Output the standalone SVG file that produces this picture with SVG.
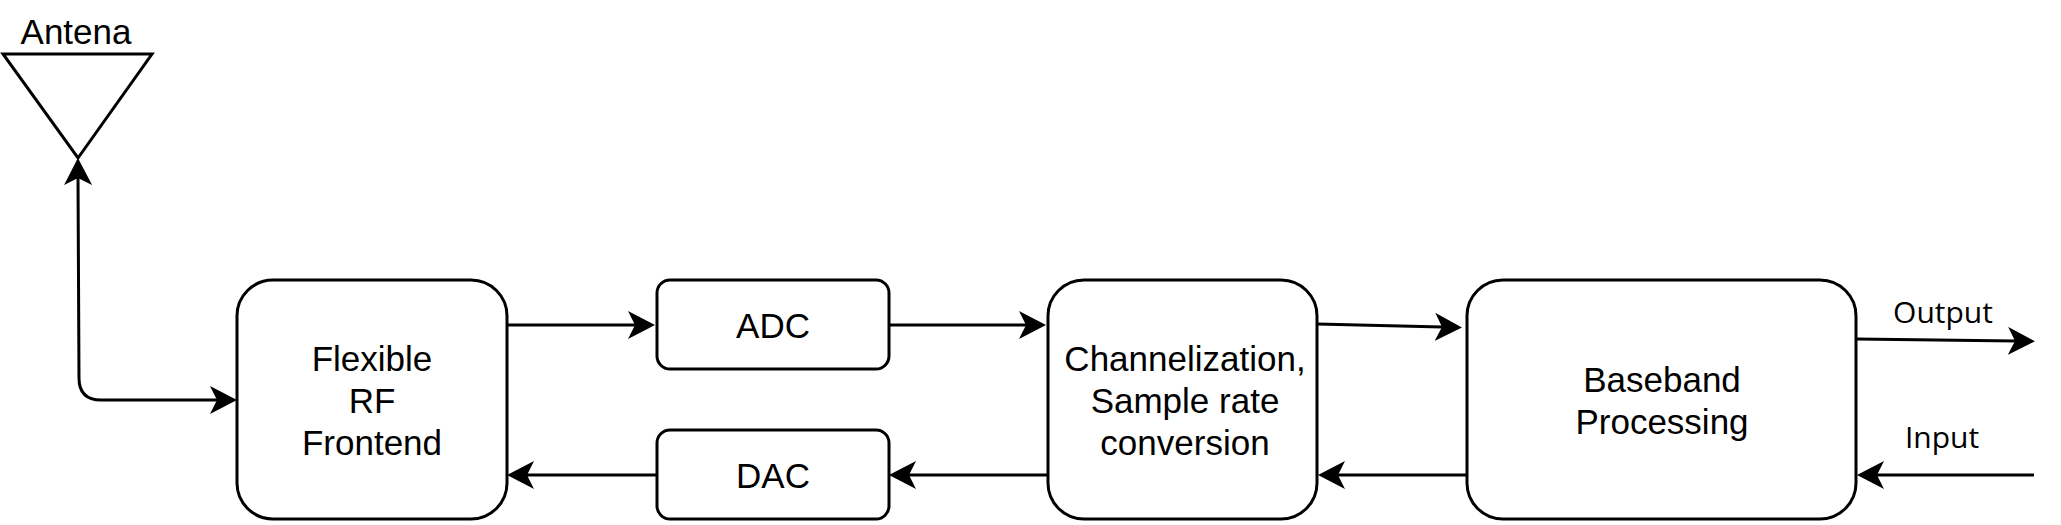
<svg xmlns="http://www.w3.org/2000/svg" width="2061" height="525" viewBox="0 0 2061 525">
<style>
.box{fill:#fff;stroke:#000;stroke-width:3}
.t{font-family:"Liberation Sans",Arial,sans-serif;font-size:35px;fill:#000;text-anchor:middle}
.lbl{font-family:"Open Sans",sans-serif;font-size:30px;fill:#000;text-anchor:middle}
.c{fill:none;stroke:#000;stroke-width:3}
</style>
<defs>
<marker id="ah" viewBox="0 0 27 28" refX="7" refY="14" markerWidth="27" markerHeight="28" markerUnits="userSpaceOnUse" orient="auto-start-reverse">
<path d="M0 0 L27 14 L0 28 L7 14 Z" fill="#000"/>
</marker>
</defs>
<rect width="2061" height="525" fill="#fff"/>
<g id="antenna">
<polygon points="3,54 152,54 78,158" fill="#fff" stroke="#000" stroke-width="3"/>
<text class="t" x="76" y="44">Antena</text>
</g>
<g id="rf">
<rect class="box" x="237" y="280" width="270" height="239" rx="36"/>
<text class="t" x="372" y="371">Flexible</text>
<text class="t" x="372" y="413">RF</text>
<text class="t" x="372" y="455">Frontend</text>
</g>
<g id="adc">
<rect class="box" x="657" y="280" width="232" height="89" rx="13"/>
<text class="t" x="773" y="338">ADC</text>
</g>
<g id="dac">
<rect class="box" x="657" y="430" width="232" height="89" rx="13"/>
<text class="t" x="773" y="488">DAC</text>
</g>
<g id="chan">
<rect class="box" x="1048" y="280" width="269" height="239" rx="36"/>
<text class="t" x="1185" y="371">Channelization,</text>
<text class="t" x="1185" y="413">Sample rate</text>
<text class="t" x="1185" y="455">conversion</text>
</g>
<g id="baseband">
<rect class="box" x="1467" y="280" width="389" height="239" rx="36"/>
<text class="t" x="1662" y="392">Baseband</text>
<text class="t" x="1662" y="434">Processing</text>
</g>
<g id="connectors">
<path class="c" d="M78 178 L79 378 Q79 400 101 400 L217 400" marker-start="url(#ah)" marker-end="url(#ah)"/>
<path class="c" d="M507 325 L635 325" marker-end="url(#ah)"/>
<path class="c" d="M889 325 L1026 325" marker-end="url(#ah)"/>
<path class="c" d="M1317 324 L1442 327" marker-end="url(#ah)"/>
<path class="c" d="M1467 475 L1338 475" marker-end="url(#ah)"/>
<path class="c" d="M1048 475 L909 475" marker-end="url(#ah)"/>
<path class="c" d="M657 475 L527 475" marker-end="url(#ah)"/>
<path class="c" d="M1857 339 L2015 341" marker-end="url(#ah)"/>
<path class="c" d="M2034 475 L1877 475" marker-end="url(#ah)"/>
<text class="lbl" x="1943" y="323">Output</text>
<text class="lbl" x="1942" y="448">Input</text>
</g>
</svg>
